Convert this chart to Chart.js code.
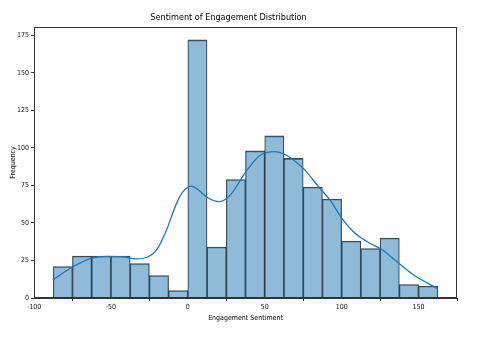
<!DOCTYPE html>
<html>
<head>
<meta charset="utf-8">
<script src="https://cdn.jsdelivr.net/npm/chart.js@4/dist/chart.umd.min.js"></script>
<style>
  html, body { margin: 0; padding: 0; background: #fff; }
  #wrap { width: 480px; height: 337px; }
</style>
</head>
<body>
<div id="wrap"><canvas id="c" width="480" height="337"></canvas></div>
<script>
// Histogram bins (left edges) and counts
const binStarts = [-87.5, -75, -62.5, -50, -37.5, -25, -12.5, 0, 12.5, 25, 37.5, 50, 62.5, 75, 87.5, 100, 112.5, 125, 137.5, 150];
const binWidth = 12.5;
const counts = [21, 28, 28, 28, 23, 15, 5, 172, 34, 79, 98, 108, 93, 74, 66, 38, 33, 40, 9, 8];

// KDE curve points
const kdeX = [-87.8, -74.8, -62.8, -53, -42.2, -33.4, -26.9, -20.4, -13.9, -7.4, -3, 2.4, 7, 12.2, 20.4, 27.4, 38.3, 46.9, 56.3, 64.3, 75.2, 86, 92.6, 100.2, 107.8, 118.6, 125.2, 136, 146.9, 162.1];
const kdeY = [12, 20.8, 26.4, 27.7, 27.4, 26.1, 27, 31.9, 45.2, 62.9, 71, 74.6, 72, 67.3, 64.2, 68.4, 85, 95, 97.5, 95, 86.2, 72.9, 65.1, 53, 44, 36.3, 33, 24.1, 15.3, 6.4];

const xTicks = [-100, -50, 0, 50, 100, 150];
const yTicks = [0, 25, 50, 75, 100, 125, 150, 175];

const barData = binStarts.map((s, i) => ({ x: s + binWidth / 2, y: counts[i] }));
const lineData = kdeX.map((x, i) => ({ x: x, y: kdeY[i] }));

const FONT = "'Liberation Sans Narrow', 'DejaVu Sans Condensed', 'Liberation Sans', sans-serif";

const frame = {
  id: 'frame',
  afterDraw(chart) {
    const { ctx, chartArea: a } = chart;
    ctx.save();
    ctx.strokeStyle = '#333';
    ctx.lineWidth = 1;
    ctx.strokeRect(a.left + 0.5, a.top + 0.5, a.right - a.left - 1, a.bottom - a.top - 1);
    ctx.restore();
  }
};

new Chart(document.getElementById('c'), {
  type: 'bar',
  data: {
    datasets: [
      {
        type: 'line',
        data: lineData,
        borderColor: '#1f77b4',
        borderWidth: 1.3,
        pointRadius: 0,
        cubicInterpolationMode: 'monotone',
        fill: false,
        order: 0
      },
      {
        type: 'bar',
        data: barData,
        backgroundColor: 'rgba(31,119,180,0.5)',
        borderColor: 'rgba(20,20,20,0.8)',
        borderWidth: { left: 0.6, right: 0.6, top: 1, bottom: 0 },
        borderSkipped: false,
        barPercentage: 1,
        categoryPercentage: 1,
        order: 1
      }
    ]
  },
  options: {
    responsive: false,
    animation: false,
    devicePixelRatio: 1,
    layout: { padding: { left: 0, right: 23, top: 0, bottom: 0 } },
    plugins: {
      legend: { display: false },
      tooltip: { enabled: false },
      title: {
        display: true,
        text: 'Sentiment of Engagement Distribution',
        color: '#000',
        font: { family: FONT, size: 9, weight: 'normal' },
        padding: { top: 12, bottom: 4.2 }
      }
    },
    scales: {
      x: {
        type: 'linear',
        min: -100,
        max: 175,
        offset: false,
        afterFit: s => { s.height = 39; },
        afterBuildTicks: s => { s.ticks = xTicks.map(v => ({ value: v })); },
        grid: { display: true, drawOnChartArea: false, drawTicks: true, tickLength: 3, color: '#333' },
        border: { display: true, color: '#333' },
        ticks: { color: '#111', font: { family: FONT, size: 7 }, padding: 1.5, maxRotation: 0 },
        title: {
          display: true,
          text: 'Engagement Sentiment',
          color: '#000',
          font: { family: FONT, size: 7 },
          padding: { top: 0, bottom: 15 }
        }
      },
      y: {
        type: 'linear',
        min: 0,
        max: 180.6,
        afterFit: s => { s.width = 34; },
        afterBuildTicks: s => { s.ticks = yTicks.map(v => ({ value: v })); },
        grid: { display: true, drawOnChartArea: false, drawTicks: true, tickLength: 3, color: '#333' },
        border: { display: true, color: '#333' },
        ticks: { color: '#111', font: { family: FONT, size: 7 }, padding: 2 },
        title: {
          display: true,
          text: 'Frequency',
          color: '#000',
          font: { family: FONT, size: 7 },
          padding: { top: 9, bottom: 0 }
        }
      }
    }
  },
  plugins: [frame]
});
</script>
</body>
</html>
